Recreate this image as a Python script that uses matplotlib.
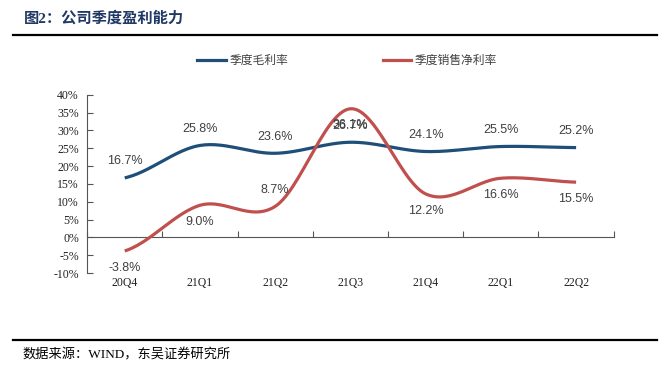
import numpy as np
import matplotlib
matplotlib.use("Agg")
import matplotlib.pyplot as plt
from matplotlib.lines import Line2D
from matplotlib.transforms import blended_transform_factory

categories = ["20Q4", "21Q1", "21Q2", "21Q3", "21Q4", "22Q1", "22Q2"]
gross_margin = [16.7, 25.8, 23.6, 26.7, 24.1, 25.5, 25.2]
net_margin = [-3.8, 9.0, 8.7, 36.1, 12.2, 16.6, 15.5]
gross_label_pos = ["above"] * 7
net_label_pos = ["below", "below", "above", "below", "below", "below", "below"]
y_ticks = list(range(-10, 45, 5))

BLUE = "#1F4E79"
RED = "#C0504D"
CJK = ["Noto Sans CJK SC", "DejaVu Sans"]
SERIF_CJK = ["Liberation Serif", "Noto Sans CJK SC"]


def smooth(xs, ys, n=30, t=0.5):
    xs = np.asarray(xs, float)
    ys = np.asarray(ys, float)
    px = np.concatenate([[2 * xs[0] - xs[1]], xs, [2 * xs[-1] - xs[-2]]])
    py = np.concatenate([[ys[0]], ys, [ys[-1]]])
    outx, outy = [], []
    for i in range(1, len(px) - 2):
        p0, p1, p2, p3 = py[i - 1], py[i], py[i + 1], py[i + 2]
        x0, x1, x2, x3 = px[i - 1], px[i], px[i + 1], px[i + 2]
        m1y = t * (p2 - p0)
        m2y = t * (p3 - p1)
        m1x = t * (x2 - x0)
        m2x = t * (x3 - x1)
        s = np.linspace(0, 1, n)
        h00 = 2 * s**3 - 3 * s**2 + 1
        h10 = s**3 - 2 * s**2 + s
        h01 = -2 * s**3 + 3 * s**2
        h11 = s**3 - s**2
        outx.append(h00 * x1 + h10 * m1x + h01 * x2 + h11 * m2x)
        outy.append(h00 * p1 + h10 * m1y + h01 * p2 + h11 * m2y)
    return np.concatenate(outx), np.concatenate(outy)


fig = plt.figure(figsize=(6.70, 3.84), dpi=100)
ax = fig.add_axes([0.130, 0.289, 0.786, 0.464])

x = np.arange(len(categories))
gx, gy = smooth(x, gross_margin)
nx, ny = smooth(x, net_margin)
ax.plot(gx, gy, color=BLUE, lw=2.3, solid_capstyle="butt", zorder=3)
ax.plot(nx, ny, color=RED, lw=2.3, solid_capstyle="butt", zorder=3)

lab_kw = dict(textcoords="offset points", ha="center", va="center",
              fontsize=9, color="#404040", family="Liberation Sans", zorder=5)
for xi, v, pos in zip(x, gross_margin, gross_label_pos):
    off = 12 if pos == "above" else -12
    ax.annotate(f"{v:.1f}%", (xi, v), xytext=(0, off), **lab_kw)
for xi, v, pos in zip(x, net_margin, net_label_pos):
    off = 12 if pos == "above" else -12
    ax.annotate(f"{v:.1f}%", (xi, v), xytext=(0, off), **lab_kw)

ax.set_xlim(-0.5, len(categories) - 0.5)
ax.set_ylim(-10, 40)
ax.set_yticks(y_ticks)
ax.set_yticklabels([f"{v}%" for v in y_ticks], family="Liberation Serif", fontsize=8.5, color="#222222")
ax.set_xticks(np.arange(len(categories) + 1) - 0.5)
ax.set_xticklabels([])
ax.tick_params(axis="y", direction="in", length=4, width=0.8, color="#555555", pad=6)
ax.tick_params(axis="x", direction="in", length=4, width=0.8, color="#555555")

for s in ["top", "right"]:
    ax.spines[s].set_visible(False)
ax.spines["bottom"].set_position(("data", 0))
ax.spines["bottom"].set_color("#555555")
ax.spines["left"].set_color("#555555")
ax.spines["bottom"].set_linewidth(0.8)
ax.spines["left"].set_linewidth(0.8)

trans = blended_transform_factory(ax.transData, ax.transAxes)
for xi, c in zip(x, categories):
    ax.text(xi, -0.055, c, transform=trans, ha="center", va="center",
            family="Liberation Serif", fontsize=8.5, color="#222222")

# legend
handles = [Line2D([], [], color=BLUE, lw=2.3), Line2D([], [], color=RED, lw=2.3)]
leg = fig.legend(handles, ["季度毛利率", "季度销售净利率"], loc="center",
                 bbox_to_anchor=(0.518, 0.843), ncol=2, frameon=False,
                 prop={"family": CJK, "size": 8.5}, handlelength=2.4,
                 handletextpad=0.3, columnspacing=8.0)
for t in leg.get_texts():
    t.set_color("#404040")

# title and frame lines
fig.text(0.036, 0.953, "图2：公司季度盈利能力", family=SERIF_CJK, fontsize=11,
         fontweight="bold", color="#1F3864", ha="left", va="center")
fig.add_artist(Line2D([0.019, 0.98], [0.908, 0.908], color="black", lw=1.6))
fig.add_artist(Line2D([0.019, 0.98], [0.115, 0.115], color="black", lw=1.6))
fig.text(0.033, 0.075, "数据来源：WIND，东吴证券研究所", family=SERIF_CJK, fontsize=9.5,
         color="black", ha="left", va="center")

fig.savefig("out.png", dpi=100)
